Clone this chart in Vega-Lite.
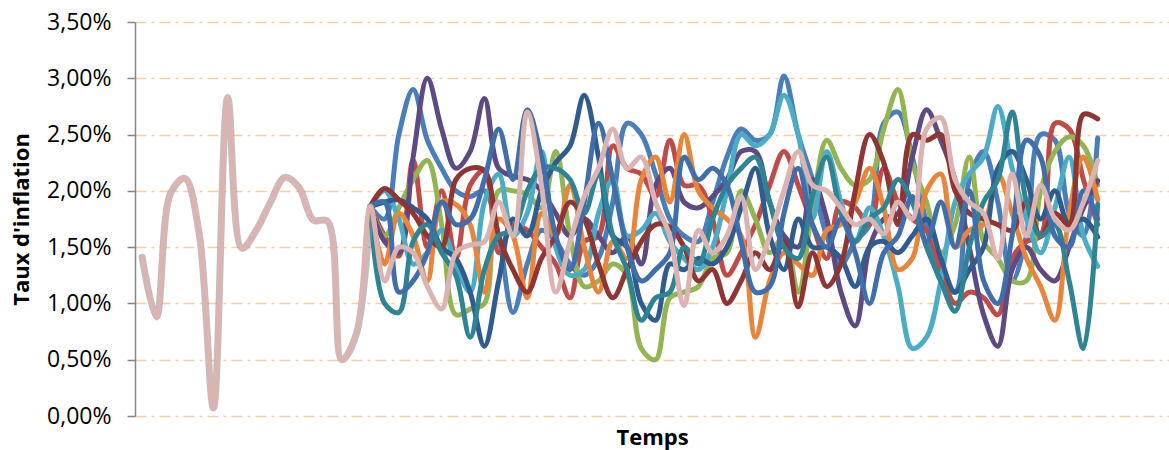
{
"$schema": "https://vega.github.io/schema/vega-lite/v6.json",
"width": 1034, "height": 394,
"autosize": {"type": "none"},
"padding": {"left": 135, "top": 22, "right": 0, "bottom": 34},
"background": "white",
"config": {"view": {"stroke": null}},
"data": {"values": [
{"serie":"S11","t":0,"v":1.41},{"serie":"S11","t":1,"v":0.88},{"serie":"S11","t":2,"v":1.98},{"serie":"S11","t":3,"v":2.11},{"serie":"S11","t":4,"v":1.62},{"serie":"S11","t":5,"v":0.07},{"serie":"S11","t":6,"v":2.83},{"serie":"S11","t":7,"v":1.49},{"serie":"S11","t":8,"v":1.65},{"serie":"S11","t":9,"v":1.9},{"serie":"S11","t":10,"v":2.12},{"serie":"S11","t":11,"v":2.03},{"serie":"S11","t":12,"v":1.74},{"serie":"S11","t":13,"v":1.73},{"serie":"S11","t":14,"v":0.5},{"serie":"S11","t":15,"v":0.72},
{"serie":"S11","t":16,"v":1.86},{"serie":"S11","t":17,"v":1.2},{"serie":"S11","t":18,"v":1.5},{"serie":"S11","t":19,"v":1.45},{"serie":"S11","t":20,"v":1.15},{"serie":"S11","t":21,"v":0.95},{"serie":"S11","t":22,"v":1.45},{"serie":"S11","t":23,"v":1.52},{"serie":"S11","t":24,"v":1.55},{"serie":"S11","t":25,"v":1.9},{"serie":"S11","t":26,"v":1.6},{"serie":"S11","t":27,"v":2.7},{"serie":"S11","t":28,"v":2.05},{"serie":"S11","t":29,"v":1.1},{"serie":"S11","t":30,"v":1.55},{"serie":"S11","t":31,"v":1.95},{"serie":"S11","t":32,"v":2.2},{"serie":"S11","t":33,"v":2.55},{"serie":"S11","t":34,"v":2.2},{"serie":"S11","t":35,"v":2.3},{"serie":"S11","t":36,"v":1.9},{"serie":"S11","t":37,"v":1.6},{"serie":"S11","t":38,"v":0.98},{"serie":"S11","t":39,"v":1.65},{"serie":"S11","t":40,"v":1.45},{"serie":"S11","t":41,"v":1.6},{"serie":"S11","t":42,"v":1.95},{"serie":"S11","t":43,"v":1.3},{"serie":"S11","t":44,"v":1.6},{"serie":"S11","t":45,"v":2.0},{"serie":"S11","t":46,"v":2.35},{"serie":"S11","t":47,"v":2.05},{"serie":"S11","t":48,"v":2.0},{"serie":"S11","t":49,"v":1.85},{"serie":"S11","t":50,"v":1.7},{"serie":"S11","t":51,"v":1.75},{"serie":"S11","t":52,"v":1.62},{"serie":"S11","t":53,"v":1.9},{"serie":"S11","t":54,"v":1.75},{"serie":"S11","t":55,"v":2.55},{"serie":"S11","t":56,"v":2.65},{"serie":"S11","t":57,"v":2.1},{"serie":"S11","t":58,"v":1.9},{"serie":"S11","t":59,"v":1.8},{"serie":"S11","t":60,"v":1.4},{"serie":"S11","t":61,"v":2.15},{"serie":"S11","t":62,"v":1.6},{"serie":"S11","t":63,"v":2.05},{"serie":"S11","t":64,"v":1.75},{"serie":"S11","t":65,"v":1.65},{"serie":"S11","t":66,"v":1.9},{"serie":"S11","t":67,"v":2.27},
{"serie":"S01","t":16,"v":1.86},{"serie":"S01","t":17,"v":1.75},{"serie":"S01","t":18,"v":2.5},{"serie":"S01","t":19,"v":2.9},{"serie":"S01","t":20,"v":2.45},{"serie":"S01","t":21,"v":2.2},{"serie":"S01","t":22,"v":2.0},{"serie":"S01","t":23,"v":1.95},{"serie":"S01","t":24,"v":2.0},{"serie":"S01","t":25,"v":1.6},{"serie":"S01","t":26,"v":0.92},{"serie":"S01","t":27,"v":1.35},{"serie":"S01","t":28,"v":1.65},{"serie":"S01","t":29,"v":1.55},{"serie":"S01","t":30,"v":1.35},{"serie":"S01","t":31,"v":1.25},{"serie":"S01","t":32,"v":1.4},{"serie":"S01","t":33,"v":1.9},{"serie":"S01","t":34,"v":2.6},{"serie":"S01","t":35,"v":2.5},{"serie":"S01","t":36,"v":2.15},{"serie":"S01","t":37,"v":1.75},{"serie":"S01","t":38,"v":1.6},{"serie":"S01","t":39,"v":1.55},{"serie":"S01","t":40,"v":1.9},{"serie":"S01","t":41,"v":2.3},{"serie":"S01","t":42,"v":2.55},{"serie":"S01","t":43,"v":2.45},{"serie":"S01","t":44,"v":2.5},{"serie":"S01","t":45,"v":3.02},{"serie":"S01","t":46,"v":2.5},{"serie":"S01","t":47,"v":2.1},{"serie":"S01","t":48,"v":1.6},{"serie":"S01","t":49,"v":1.35},{"serie":"S01","t":50,"v":1.55},{"serie":"S01","t":51,"v":1.7},{"serie":"S01","t":52,"v":2.6},{"serie":"S01","t":53,"v":2.7},{"serie":"S01","t":54,"v":2.3},{"serie":"S01","t":55,"v":1.7},{"serie":"S01","t":56,"v":1.2},{"serie":"S01","t":57,"v":1.1},{"serie":"S01","t":58,"v":2.1},{"serie":"S01","t":59,"v":2.35},{"serie":"S01","t":60,"v":1.9},{"serie":"S01","t":61,"v":1.2},{"serie":"S01","t":62,"v":1.6},{"serie":"S01","t":63,"v":2.5},{"serie":"S01","t":64,"v":2.45},{"serie":"S01","t":65,"v":1.8},{"serie":"S01","t":66,"v":1.6},{"serie":"S01","t":67,"v":2.47},
{"serie":"S02","t":16,"v":1.86},{"serie":"S02","t":17,"v":1.6},{"serie":"S02","t":18,"v":1.42},{"serie":"S02","t":19,"v":2.27},{"serie":"S02","t":20,"v":1.5},{"serie":"S02","t":21,"v":2.0},{"serie":"S02","t":22,"v":1.4},{"serie":"S02","t":23,"v":2.05},{"serie":"S02","t":24,"v":2.18},{"serie":"S02","t":25,"v":1.45},{"serie":"S02","t":26,"v":1.7},{"serie":"S02","t":27,"v":1.65},{"serie":"S02","t":28,"v":1.5},{"serie":"S02","t":29,"v":1.35},{"serie":"S02","t":30,"v":1.05},{"serie":"S02","t":31,"v":1.55},{"serie":"S02","t":32,"v":1.6},{"serie":"S02","t":33,"v":2.4},{"serie":"S02","t":34,"v":2.2},{"serie":"S02","t":35,"v":2.15},{"serie":"S02","t":36,"v":1.95},{"serie":"S02","t":37,"v":2.45},{"serie":"S02","t":38,"v":2.05},{"serie":"S02","t":39,"v":2.05},{"serie":"S02","t":40,"v":1.75},{"serie":"S02","t":41,"v":1.25},{"serie":"S02","t":42,"v":1.45},{"serie":"S02","t":43,"v":1.7},{"serie":"S02","t":44,"v":2.05},{"serie":"S02","t":45,"v":2.35},{"serie":"S02","t":46,"v":2.05},{"serie":"S02","t":47,"v":1.7},{"serie":"S02","t":48,"v":1.4},{"serie":"S02","t":49,"v":1.9},{"serie":"S02","t":50,"v":1.85},{"serie":"S02","t":51,"v":1.7},{"serie":"S02","t":52,"v":2.2},{"serie":"S02","t":53,"v":1.9},{"serie":"S02","t":54,"v":1.75},{"serie":"S02","t":55,"v":1.65},{"serie":"S02","t":56,"v":1.3},{"serie":"S02","t":57,"v":1.0},{"serie":"S02","t":58,"v":1.1},{"serie":"S02","t":59,"v":1.05},{"serie":"S02","t":60,"v":0.9},{"serie":"S02","t":61,"v":1.4},{"serie":"S02","t":62,"v":1.55},{"serie":"S02","t":63,"v":1.6},{"serie":"S02","t":64,"v":2.6},{"serie":"S02","t":65,"v":2.55},{"serie":"S02","t":66,"v":2.1},{"serie":"S02","t":67,"v":1.7},
{"serie":"S03","t":16,"v":1.86},{"serie":"S03","t":17,"v":1.6},{"serie":"S03","t":18,"v":1.85},{"serie":"S03","t":19,"v":2.1},{"serie":"S03","t":20,"v":2.27},{"serie":"S03","t":21,"v":1.7},{"serie":"S03","t":22,"v":0.9},{"serie":"S03","t":23,"v":0.95},{"serie":"S03","t":24,"v":1.0},{"serie":"S03","t":25,"v":2.0},{"serie":"S03","t":26,"v":2.0},{"serie":"S03","t":27,"v":1.97},{"serie":"S03","t":28,"v":1.85},{"serie":"S03","t":29,"v":2.35},{"serie":"S03","t":30,"v":1.6},{"serie":"S03","t":31,"v":1.15},{"serie":"S03","t":32,"v":1.2},{"serie":"S03","t":33,"v":1.35},{"serie":"S03","t":34,"v":1.25},{"serie":"S03","t":35,"v":0.6},{"serie":"S03","t":36,"v":0.5},{"serie":"S03","t":37,"v":1.05},{"serie":"S03","t":38,"v":1.1},{"serie":"S03","t":39,"v":1.15},{"serie":"S03","t":40,"v":1.4},{"serie":"S03","t":41,"v":1.45},{"serie":"S03","t":42,"v":2.0},{"serie":"S03","t":43,"v":1.75},{"serie":"S03","t":44,"v":1.45},{"serie":"S03","t":45,"v":1.6},{"serie":"S03","t":46,"v":1.1},{"serie":"S03","t":47,"v":1.85},{"serie":"S03","t":48,"v":2.45},{"serie":"S03","t":49,"v":2.2},{"serie":"S03","t":50,"v":2.05},{"serie":"S03","t":51,"v":2.1},{"serie":"S03","t":52,"v":2.55},{"serie":"S03","t":53,"v":2.9},{"serie":"S03","t":54,"v":2.25},{"serie":"S03","t":55,"v":1.9},{"serie":"S03","t":56,"v":1.45},{"serie":"S03","t":57,"v":1.7},{"serie":"S03","t":58,"v":2.3},{"serie":"S03","t":59,"v":1.55},{"serie":"S03","t":60,"v":1.4},{"serie":"S03","t":61,"v":1.2},{"serie":"S03","t":62,"v":1.2},{"serie":"S03","t":63,"v":2.0},{"serie":"S03","t":64,"v":2.35},{"serie":"S03","t":65,"v":2.48},{"serie":"S03","t":66,"v":2.4},{"serie":"S03","t":67,"v":2.05},
{"serie":"S04","t":16,"v":1.86},{"serie":"S04","t":17,"v":1.55},{"serie":"S04","t":18,"v":1.45},{"serie":"S04","t":19,"v":2.3},{"serie":"S04","t":20,"v":3.0},{"serie":"S04","t":21,"v":2.55},{"serie":"S04","t":22,"v":2.2},{"serie":"S04","t":23,"v":2.35},{"serie":"S04","t":24,"v":2.82},{"serie":"S04","t":25,"v":2.2},{"serie":"S04","t":26,"v":2.13},{"serie":"S04","t":27,"v":2.1},{"serie":"S04","t":28,"v":2.0},{"serie":"S04","t":29,"v":1.8},{"serie":"S04","t":30,"v":1.6},{"serie":"S04","t":31,"v":1.75},{"serie":"S04","t":32,"v":1.6},{"serie":"S04","t":33,"v":1.45},{"serie":"S04","t":34,"v":1.6},{"serie":"S04","t":35,"v":1.35},{"serie":"S04","t":36,"v":2.05},{"serie":"S04","t":37,"v":2.2},{"serie":"S04","t":38,"v":1.9},{"serie":"S04","t":39,"v":1.85},{"serie":"S04","t":40,"v":1.95},{"serie":"S04","t":41,"v":2.1},{"serie":"S04","t":42,"v":2.35},{"serie":"S04","t":43,"v":2.35},{"serie":"S04","t":44,"v":1.9},{"serie":"S04","t":45,"v":1.6},{"serie":"S04","t":46,"v":1.5},{"serie":"S04","t":47,"v":2.1},{"serie":"S04","t":48,"v":1.75},{"serie":"S04","t":49,"v":1.1},{"serie":"S04","t":50,"v":0.8},{"serie":"S04","t":51,"v":1.5},{"serie":"S04","t":52,"v":1.75},{"serie":"S04","t":53,"v":1.8},{"serie":"S04","t":54,"v":2.3},{"serie":"S04","t":55,"v":2.72},{"serie":"S04","t":56,"v":2.45},{"serie":"S04","t":57,"v":2.1},{"serie":"S04","t":58,"v":1.5},{"serie":"S04","t":59,"v":0.9},{"serie":"S04","t":60,"v":0.62},{"serie":"S04","t":61,"v":1.3},{"serie":"S04","t":62,"v":1.5},{"serie":"S04","t":63,"v":1.3},{"serie":"S04","t":64,"v":1.2},{"serie":"S04","t":65,"v":1.5},{"serie":"S04","t":66,"v":1.85},{"serie":"S04","t":67,"v":2.09},
{"serie":"S05","t":16,"v":1.86},{"serie":"S05","t":17,"v":2.0},{"serie":"S05","t":18,"v":1.75},{"serie":"S05","t":19,"v":1.35},{"serie":"S05","t":20,"v":1.45},{"serie":"S05","t":21,"v":1.65},{"serie":"S05","t":22,"v":1.35},{"serie":"S05","t":23,"v":1.1},{"serie":"S05","t":24,"v":1.9},{"serie":"S05","t":25,"v":2.15},{"serie":"S05","t":26,"v":1.6},{"serie":"S05","t":27,"v":1.8},{"serie":"S05","t":28,"v":2.35},{"serie":"S05","t":29,"v":1.5},{"serie":"S05","t":30,"v":1.25},{"serie":"S05","t":31,"v":1.3},{"serie":"S05","t":32,"v":1.8},{"serie":"S05","t":33,"v":2.1},{"serie":"S05","t":34,"v":1.6},{"serie":"S05","t":35,"v":1.65},{"serie":"S05","t":36,"v":1.8},{"serie":"S05","t":37,"v":1.55},{"serie":"S05","t":38,"v":1.4},{"serie":"S05","t":39,"v":1.3},{"serie":"S05","t":40,"v":1.5},{"serie":"S05","t":41,"v":2.0},{"serie":"S05","t":42,"v":2.5},{"serie":"S05","t":43,"v":2.4},{"serie":"S05","t":44,"v":2.5},{"serie":"S05","t":45,"v":2.85},{"serie":"S05","t":46,"v":2.5},{"serie":"S05","t":47,"v":1.75},{"serie":"S05","t":48,"v":2.35},{"serie":"S05","t":49,"v":1.9},{"serie":"S05","t":50,"v":1.55},{"serie":"S05","t":51,"v":1.85},{"serie":"S05","t":52,"v":1.6},{"serie":"S05","t":53,"v":1.15},{"serie":"S05","t":54,"v":0.6},{"serie":"S05","t":55,"v":0.7},{"serie":"S05","t":56,"v":1.2},{"serie":"S05","t":57,"v":1.9},{"serie":"S05","t":58,"v":2.15},{"serie":"S05","t":59,"v":2.3},{"serie":"S05","t":60,"v":2.75},{"serie":"S05","t":61,"v":2.2},{"serie":"S05","t":62,"v":1.75},{"serie":"S05","t":63,"v":1.45},{"serie":"S05","t":64,"v":1.85},{"serie":"S05","t":65,"v":2.3},{"serie":"S05","t":66,"v":1.6},{"serie":"S05","t":67,"v":1.33},
{"serie":"S06","t":16,"v":1.86},{"serie":"S06","t":17,"v":1.35},{"serie":"S06","t":18,"v":1.8},{"serie":"S06","t":19,"v":1.6},{"serie":"S06","t":20,"v":1.2},{"serie":"S06","t":21,"v":1.9},{"serie":"S06","t":22,"v":1.88},{"serie":"S06","t":23,"v":1.7},{"serie":"S06","t":24,"v":1.1},{"serie":"S06","t":25,"v":1.75},{"serie":"S06","t":26,"v":1.6},{"serie":"S06","t":27,"v":1.05},{"serie":"S06","t":28,"v":1.8},{"serie":"S06","t":29,"v":1.6},{"serie":"S06","t":30,"v":2.05},{"serie":"S06","t":31,"v":1.5},{"serie":"S06","t":32,"v":1.1},{"serie":"S06","t":33,"v":1.55},{"serie":"S06","t":34,"v":1.4},{"serie":"S06","t":35,"v":2.1},{"serie":"S06","t":36,"v":2.3},{"serie":"S06","t":37,"v":1.9},{"serie":"S06","t":38,"v":2.5},{"serie":"S06","t":39,"v":2.0},{"serie":"S06","t":40,"v":1.85},{"serie":"S06","t":41,"v":1.75},{"serie":"S06","t":42,"v":1.6},{"serie":"S06","t":43,"v":0.7},{"serie":"S06","t":44,"v":1.2},{"serie":"S06","t":45,"v":1.45},{"serie":"S06","t":46,"v":1.35},{"serie":"S06","t":47,"v":1.25},{"serie":"S06","t":48,"v":1.65},{"serie":"S06","t":49,"v":1.7},{"serie":"S06","t":50,"v":1.9},{"serie":"S06","t":51,"v":2.2},{"serie":"S06","t":52,"v":1.85},{"serie":"S06","t":53,"v":1.3},{"serie":"S06","t":54,"v":1.4},{"serie":"S06","t":55,"v":2.0},{"serie":"S06","t":56,"v":2.15},{"serie":"S06","t":57,"v":1.5},{"serie":"S06","t":58,"v":1.65},{"serie":"S06","t":59,"v":1.7},{"serie":"S06","t":60,"v":2.15},{"serie":"S06","t":61,"v":1.8},{"serie":"S06","t":62,"v":1.4},{"serie":"S06","t":63,"v":1.15},{"serie":"S06","t":64,"v":0.85},{"serie":"S06","t":65,"v":1.8},{"serie":"S06","t":66,"v":2.3},{"serie":"S06","t":67,"v":1.92},
{"serie":"S07","t":16,"v":1.86},{"serie":"S07","t":17,"v":1.9},{"serie":"S07","t":18,"v":1.92},{"serie":"S07","t":19,"v":1.85},{"serie":"S07","t":20,"v":1.75},{"serie":"S07","t":21,"v":1.5},{"serie":"S07","t":22,"v":1.4},{"serie":"S07","t":23,"v":1.1},{"serie":"S07","t":24,"v":0.62},{"serie":"S07","t":25,"v":1.2},{"serie":"S07","t":26,"v":1.75},{"serie":"S07","t":27,"v":1.6},{"serie":"S07","t":28,"v":2.0},{"serie":"S07","t":29,"v":2.25},{"serie":"S07","t":30,"v":2.4},{"serie":"S07","t":31,"v":2.85},{"serie":"S07","t":32,"v":2.3},{"serie":"S07","t":33,"v":1.6},{"serie":"S07","t":34,"v":1.5},{"serie":"S07","t":35,"v":1.0},{"serie":"S07","t":36,"v":0.85},{"serie":"S07","t":37,"v":1.35},{"serie":"S07","t":38,"v":1.3},{"serie":"S07","t":39,"v":1.4},{"serie":"S07","t":40,"v":1.35},{"serie":"S07","t":41,"v":1.5},{"serie":"S07","t":42,"v":1.85},{"serie":"S07","t":43,"v":2.2},{"serie":"S07","t":44,"v":1.6},{"serie":"S07","t":45,"v":1.3},{"serie":"S07","t":46,"v":1.75},{"serie":"S07","t":47,"v":1.5},{"serie":"S07","t":48,"v":1.5},{"serie":"S07","t":49,"v":1.4},{"serie":"S07","t":50,"v":1.15},{"serie":"S07","t":51,"v":1.5},{"serie":"S07","t":52,"v":1.55},{"serie":"S07","t":53,"v":1.45},{"serie":"S07","t":54,"v":1.6},{"serie":"S07","t":55,"v":1.75},{"serie":"S07","t":56,"v":1.4},{"serie":"S07","t":57,"v":1.1},{"serie":"S07","t":58,"v":1.3},{"serie":"S07","t":59,"v":1.5},{"serie":"S07","t":60,"v":2.2},{"serie":"S07","t":61,"v":2.35},{"serie":"S07","t":62,"v":2.1},{"serie":"S07","t":63,"v":1.75},{"serie":"S07","t":64,"v":2.0},{"serie":"S07","t":65,"v":1.7},{"serie":"S07","t":66,"v":1.75},{"serie":"S07","t":67,"v":1.59},
{"serie":"S08","t":16,"v":1.86},{"serie":"S08","t":17,"v":2.02},{"serie":"S08","t":18,"v":1.92},{"serie":"S08","t":19,"v":1.8},{"serie":"S08","t":20,"v":1.6},{"serie":"S08","t":21,"v":1.5},{"serie":"S08","t":22,"v":2.1},{"serie":"S08","t":23,"v":2.2},{"serie":"S08","t":24,"v":2.18},{"serie":"S08","t":25,"v":1.6},{"serie":"S08","t":26,"v":1.3},{"serie":"S08","t":27,"v":1.1},{"serie":"S08","t":28,"v":1.4},{"serie":"S08","t":29,"v":1.6},{"serie":"S08","t":30,"v":1.9},{"serie":"S08","t":31,"v":1.75},{"serie":"S08","t":32,"v":1.35},{"serie":"S08","t":33,"v":1.05},{"serie":"S08","t":34,"v":1.3},{"serie":"S08","t":35,"v":1.55},{"serie":"S08","t":36,"v":1.7},{"serie":"S08","t":37,"v":1.68},{"serie":"S08","t":38,"v":1.5},{"serie":"S08","t":39,"v":1.2},{"serie":"S08","t":40,"v":1.3},{"serie":"S08","t":41,"v":1.0},{"serie":"S08","t":42,"v":1.2},{"serie":"S08","t":43,"v":1.45},{"serie":"S08","t":44,"v":1.3},{"serie":"S08","t":45,"v":1.55},{"serie":"S08","t":46,"v":0.97},{"serie":"S08","t":47,"v":1.45},{"serie":"S08","t":48,"v":1.15},{"serie":"S08","t":49,"v":1.35},{"serie":"S08","t":50,"v":2.0},{"serie":"S08","t":51,"v":2.5},{"serie":"S08","t":52,"v":2.25},{"serie":"S08","t":53,"v":1.7},{"serie":"S08","t":54,"v":2.5},{"serie":"S08","t":55,"v":2.45},{"serie":"S08","t":56,"v":2.5},{"serie":"S08","t":57,"v":2.0},{"serie":"S08","t":58,"v":1.8},{"serie":"S08","t":59,"v":1.75},{"serie":"S08","t":60,"v":1.7},{"serie":"S08","t":61,"v":1.65},{"serie":"S08","t":62,"v":1.9},{"serie":"S08","t":63,"v":1.6},{"serie":"S08","t":64,"v":1.8},{"serie":"S08","t":65,"v":1.7},{"serie":"S08","t":66,"v":2.68},{"serie":"S08","t":67,"v":2.64},
{"serie":"S09","t":16,"v":1.86},{"serie":"S09","t":17,"v":1.0},{"serie":"S09","t":18,"v":0.92},{"serie":"S09","t":19,"v":1.55},{"serie":"S09","t":20,"v":1.7},{"serie":"S09","t":21,"v":1.45},{"serie":"S09","t":22,"v":1.25},{"serie":"S09","t":23,"v":0.7},{"serie":"S09","t":24,"v":1.3},{"serie":"S09","t":25,"v":1.6},{"serie":"S09","t":26,"v":1.65},{"serie":"S09","t":27,"v":2.0},{"serie":"S09","t":28,"v":2.2},{"serie":"S09","t":29,"v":2.2},{"serie":"S09","t":30,"v":2.1},{"serie":"S09","t":31,"v":1.8},{"serie":"S09","t":32,"v":2.15},{"serie":"S09","t":33,"v":1.6},{"serie":"S09","t":34,"v":1.3},{"serie":"S09","t":35,"v":0.85},{"serie":"S09","t":36,"v":1.05},{"serie":"S09","t":37,"v":1.1},{"serie":"S09","t":38,"v":1.5},{"serie":"S09","t":39,"v":1.35},{"serie":"S09","t":40,"v":1.75},{"serie":"S09","t":41,"v":2.05},{"serie":"S09","t":42,"v":2.2},{"serie":"S09","t":43,"v":2.3},{"serie":"S09","t":44,"v":1.9},{"serie":"S09","t":45,"v":1.5},{"serie":"S09","t":46,"v":1.4},{"serie":"S09","t":47,"v":1.95},{"serie":"S09","t":48,"v":2.3},{"serie":"S09","t":49,"v":1.8},{"serie":"S09","t":50,"v":1.55},{"serie":"S09","t":51,"v":1.75},{"serie":"S09","t":52,"v":1.85},{"serie":"S09","t":53,"v":2.1},{"serie":"S09","t":54,"v":1.9},{"serie":"S09","t":55,"v":1.5},{"serie":"S09","t":56,"v":1.2},{"serie":"S09","t":57,"v":0.93},{"serie":"S09","t":58,"v":1.5},{"serie":"S09","t":59,"v":1.9},{"serie":"S09","t":60,"v":2.1},{"serie":"S09","t":61,"v":2.7},{"serie":"S09","t":62,"v":1.9},{"serie":"S09","t":63,"v":1.6},{"serie":"S09","t":64,"v":1.7},{"serie":"S09","t":65,"v":1.2},{"serie":"S09","t":66,"v":0.6},{"serie":"S09","t":67,"v":1.88},
{"serie":"S10","t":16,"v":1.86},{"serie":"S10","t":17,"v":1.9},{"serie":"S10","t":18,"v":1.1},{"serie":"S10","t":19,"v":1.2},{"serie":"S10","t":20,"v":1.45},{"serie":"S10","t":21,"v":1.9},{"serie":"S10","t":22,"v":1.7},{"serie":"S10","t":23,"v":1.75},{"serie":"S10","t":24,"v":2.1},{"serie":"S10","t":25,"v":2.55},{"serie":"S10","t":26,"v":2.1},{"serie":"S10","t":27,"v":2.72},{"serie":"S10","t":28,"v":2.3},{"serie":"S10","t":29,"v":1.6},{"serie":"S10","t":30,"v":1.3},{"serie":"S10","t":31,"v":1.9},{"serie":"S10","t":32,"v":2.6},{"serie":"S10","t":33,"v":2.1},{"serie":"S10","t":34,"v":1.5},{"serie":"S10","t":35,"v":1.2},{"serie":"S10","t":36,"v":1.3},{"serie":"S10","t":37,"v":1.45},{"serie":"S10","t":38,"v":2.3},{"serie":"S10","t":39,"v":2.1},{"serie":"S10","t":40,"v":2.2},{"serie":"S10","t":41,"v":2.05},{"serie":"S10","t":42,"v":1.55},{"serie":"S10","t":43,"v":1.1},{"serie":"S10","t":44,"v":1.15},{"serie":"S10","t":45,"v":1.8},{"serie":"S10","t":46,"v":2.2},{"serie":"S10","t":47,"v":1.7},{"serie":"S10","t":48,"v":1.5},{"serie":"S10","t":49,"v":1.75},{"serie":"S10","t":50,"v":1.45},{"serie":"S10","t":51,"v":1.0},{"serie":"S10","t":52,"v":1.45},{"serie":"S10","t":53,"v":1.6},{"serie":"S10","t":54,"v":1.95},{"serie":"S10","t":55,"v":1.55},{"serie":"S10","t":56,"v":1.9},{"serie":"S10","t":57,"v":1.5},{"serie":"S10","t":58,"v":2.0},{"serie":"S10","t":59,"v":1.2},{"serie":"S10","t":60,"v":1.0},{"serie":"S10","t":61,"v":1.6},{"serie":"S10","t":62,"v":2.45},{"serie":"S10","t":63,"v":2.3},{"serie":"S10","t":64,"v":1.6},{"serie":"S10","t":65,"v":1.5},{"serie":"S10","t":66,"v":2.0},{"serie":"S10","t":67,"v":1.75}
]},
"encoding": {
  "x": {"field": "t", "type": "quantitative", "scale": {"domain": [-0.5, 72.0], "nice": false, "zero": false},
        "axis": {"title": "Temps", "labels": false, "ticks": false, "domain": false, "grid": false,
                 "titleFont": "Open Sans", "titleFontSize": 22, "titleFontWeight": "bold", "titleColor": "#000000",
                 "titleY": 21, "titleBaseline": "middle"}},
  "y": {"field": "v", "type": "quantitative", "scale": {"domain": [0, 3.5], "nice": false},
        "axis": {"title": "Taux d'inflation", "values": [0, 0.5, 1, 1.5, 2, 2.5, 3, 3.5],
                 "labelExpr": "replace(format(datum.value, '.2f'), '.', ',') + '%'",
                 "labelFont": "Open Sans", "labelFontSize": 23, "labelColor": "#000000", "labelPadding": 16,
                 "tickSize": 8, "tickColor": "#868686", "tickWidth": 1.5,
                 "domainColor": "#868686", "domainWidth": 1.5,
                 "grid": true, "gridColor": "#F9CDA5", "gridWidth": 1.6, "gridDash": [11, 5, 3, 5],
                 "titleFont": "Open Sans", "titleFontSize": 22, "titleFontWeight": "bold", "titleColor": "#000000",
                 "titleX": -114, "titleY": 197, "titleBaseline": "middle", "titleAlign": "center", "titleAngle": -90}}
},
"layer": [
  {"transform": [{"filter": "datum.serie != 'S11'"}],
   "mark": {"type": "line", "interpolate": "catmull-rom", "strokeWidth": 5, "strokeCap": "round", "strokeJoin": "round"},
   "encoding": {"color": {"field": "serie", "type": "nominal", "legend": null,
     "scale": {"domain": ["S01","S02","S03","S04","S05","S06","S07","S08","S09","S10"],
               "range": ["#4A7EBB","#BE4B48","#93B452","#5E4A82","#4BACC6","#E6853B","#2F5B8E","#8F3533","#2F8494","#3F6EAA"]}}}},
  {"transform": [{"filter": "datum.serie == 'S11' && datum.t <= 16"}],
   "mark": {"type": "line", "interpolate": "catmull-rom", "strokeWidth": 7, "color": "#8a8a8a", "opacity": 0.55, "strokeCap": "round", "strokeJoin": "round"},
   "encoding": {}},
  {"transform": [{"filter": "datum.serie == 'S11'"}],
   "mark": {"type": "line", "interpolate": "catmull-rom", "strokeWidth": 5, "color": "#DBB4B2", "strokeCap": "round", "strokeJoin": "round"},
   "encoding": {}}
]
}
